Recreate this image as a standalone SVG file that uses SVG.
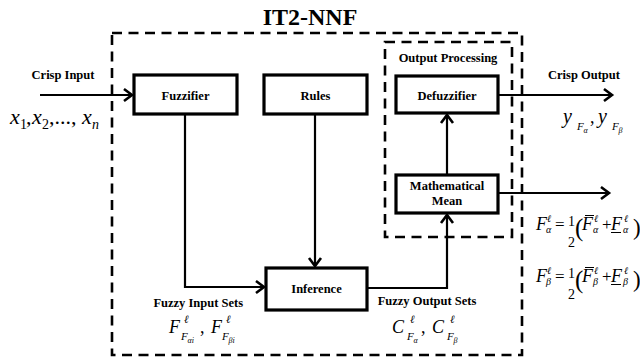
<svg xmlns="http://www.w3.org/2000/svg" width="640" height="361" viewBox="0 0 640 361" font-family="Liberation Serif, Times New Roman, serif">
  <style>
    .box { fill: #fff; stroke: #000; stroke-width: 3.2; }
    .dash { fill: none; stroke: #000; stroke-width: 2.6; stroke-dasharray: 10 6.5; }
    .wire { fill: none; stroke: #000; stroke-width: 2.2; }
    .lbl { font-family: Liberation Serif, Times New Roman, serif; font-weight: bold; font-size: 12.5px; fill: #000; }
    .mi { font-family: Liberation Serif, Times New Roman, serif; font-style: italic; fill: #000; }
    .mr { font-family: Liberation Serif, Times New Roman, serif; fill: #000; }
    .bar { stroke: #000; stroke-width: 1; }
  </style>
  <defs>
    <marker id="arrow" markerUnits="userSpaceOnUse" markerWidth="14" markerHeight="16" viewBox="-11 -8 14 16" refX="0" refY="0" orient="auto">
      <path d="M-8,-6 L0,0 L-8,6" fill="none" stroke="#000" stroke-width="2.6"/>
    </marker>
  </defs>

  <rect width="640" height="361" fill="#fff"/>

  <!-- title and system boundaries -->
  <text x="310" y="25" text-anchor="middle" font-weight="bold" font-size="24">IT2-NNF</text>
  <rect id="system" class="dash" x="112" y="33" width="410" height="322"/>
  <g id="output-processing">
    <rect class="dash" x="385" y="42" width="127" height="195"/>
    <text class="lbl" x="448" y="62" text-anchor="middle">Output Processing</text>
  </g>

  <!-- connectors -->
  <g id="connectors">
    <line class="wire" x1="40" y1="95" x2="132" y2="95" marker-end="url(#arrow)"/>
    <polyline class="wire" points="185,114 185,287 264,287" marker-end="url(#arrow)"/>
    <line class="wire" x1="315" y1="114" x2="315" y2="266" marker-end="url(#arrow)"/>
    <polyline class="wire" points="367,288 447,288 447,215" marker-end="url(#arrow)"/>
    <line class="wire" x1="447" y1="175" x2="447" y2="115" marker-end="url(#arrow)"/>
    <line class="wire" x1="498" y1="95" x2="612" y2="95" marker-end="url(#arrow)"/>
    <line class="wire" x1="498" y1="193" x2="609" y2="193" marker-end="url(#arrow)"/>
  </g>

  <!-- nodes -->
  <g id="fuzzifier">
    <rect class="box" x="134" y="75" width="103" height="39"/>
    <text class="lbl" x="185.5" y="100" text-anchor="middle">Fuzzifier</text>
  </g>
  <g id="rules">
    <rect class="box" x="264" y="75" width="103" height="39"/>
    <text class="lbl" x="315.5" y="100" text-anchor="middle">Rules</text>
  </g>
  <g id="inference">
    <rect class="box" x="266" y="268" width="101" height="42"/>
    <text class="lbl" x="316.5" y="293" text-anchor="middle">Inference</text>
  </g>
  <g id="defuzzifier">
    <rect class="box" x="396" y="76" width="102" height="37"/>
    <text class="lbl" x="447" y="100" text-anchor="middle">Defuzzifier</text>
  </g>
  <g id="mean">
    <rect class="box" x="396" y="175" width="102" height="38"/>
    <text class="lbl" x="447" y="190" text-anchor="middle">Mathematical</text>
    <text class="lbl" x="447" y="205" text-anchor="middle">Mean</text>
  </g>

  <!-- port labels -->
  <g id="crisp-input">
    <text class="lbl" x="63" y="79" text-anchor="middle">Crisp Input</text>
    <text class="mi" font-size="22" y="124"><tspan x="10">x</tspan><tspan x="20" y="129" font-size="14" font-style="normal">1</tspan><tspan x="26" y="124" font-style="normal">,</tspan><tspan x="32">x</tspan><tspan x="42" y="129" font-size="14" font-style="normal">2</tspan><tspan x="49" y="124" font-style="normal">,...,</tspan><tspan x="82">x</tspan><tspan x="92" y="129" font-size="14">n</tspan></text>
  </g>
  <g id="crisp-output">
    <text class="lbl" x="584" y="79" text-anchor="middle">Crisp Output</text>
    <text class="mi" font-size="20" x="563" y="123">y</text>
    <text class="mi" font-size="11" x="577" y="130">F</text>
    <text class="mi" font-size="8" x="583.5" y="133">α</text>
    <text class="mr" font-size="18" x="590" y="123">,</text>
    <text class="mi" font-size="20" x="598" y="123">y</text>
    <text class="mi" font-size="11" x="612" y="130">F</text>
    <text class="mi" font-size="8" x="618.5" y="133">β</text>
  </g>
  <g id="fuzzy-input-sets">
    <text class="lbl" x="243" y="307" text-anchor="end">Fuzzy Input Sets</text>
    <text class="mi" font-size="18" x="169" y="333">F</text>
    <text class="mi" font-size="11" x="184" y="323">ℓ</text>
    <text class="mi" font-size="11" x="181" y="340">F</text>
    <text class="mi" font-size="8" x="187.5" y="343">αi</text>
    <text class="mr" font-size="18" x="200" y="333">,</text>
    <text class="mi" font-size="18" x="211" y="333">F</text>
    <text class="mi" font-size="11" x="226" y="323">ℓ</text>
    <text class="mi" font-size="11" x="222" y="340">F</text>
    <text class="mi" font-size="8" x="228.5" y="343">βi</text>
  </g>
  <g id="fuzzy-output-sets">
    <text class="lbl" x="427" y="305" text-anchor="middle">Fuzzy Output Sets</text>
    <text class="mi" font-size="18" x="392" y="333">C</text>
    <text class="mi" font-size="11" x="410" y="323">ℓ</text>
    <text class="mi" font-size="11" x="407" y="340">F</text>
    <text class="mi" font-size="8" x="413.5" y="343">α</text>
    <text class="mr" font-size="18" x="421" y="333">,</text>
    <text class="mi" font-size="18" x="432" y="333">C</text>
    <text class="mi" font-size="11" x="450" y="323">ℓ</text>
    <text class="mi" font-size="11" x="447" y="340">F</text>
    <text class="mi" font-size="8" x="453.5" y="343">β</text>
  </g>

  <!-- mean formulas -->
  <g id="formula-alpha">
    <text class="mi" font-size="18" x="536" y="230">F</text>
    <text class="mi" font-size="10" x="547" y="222">ℓ</text>
    <text class="mi" font-size="10" x="546" y="233">α</text>
    <text class="mr" font-size="17" x="555" y="230">=</text>
    <text class="mr" font-size="14" x="568" y="226">1</text>
    <text class="mr" font-size="14" x="568" y="247">2</text>
    <text class="mr" font-size="25" x="575" y="236">(</text>
    <text class="mi" font-size="18" x="582" y="230">F</text>
    <line class="bar" x1="585" y1="215.5" x2="594" y2="215.5"/>
    <text class="mi" font-size="10" x="594" y="222">ℓ</text>
    <text class="mi" font-size="10" x="593" y="233">α</text>
    <text class="mr" font-size="17" x="602" y="230">+</text>
    <text class="mi" font-size="18" x="611" y="230">F</text>
    <line class="bar" x1="611" y1="232.5" x2="621" y2="232.5"/>
    <text class="mi" font-size="10" x="624" y="222">ℓ</text>
    <text class="mi" font-size="10" x="623" y="233">α</text>
    <text class="mr" font-size="23" x="633" y="235">)</text>
  </g>
  <g id="formula-beta">
    <text class="mi" font-size="18" x="536" y="282">F</text>
    <text class="mi" font-size="10" x="547" y="274">ℓ</text>
    <text class="mi" font-size="10" x="546" y="285">β</text>
    <text class="mr" font-size="17" x="555" y="282">=</text>
    <text class="mr" font-size="14" x="568" y="278">1</text>
    <text class="mr" font-size="14" x="568" y="299">2</text>
    <text class="mr" font-size="25" x="575" y="288">(</text>
    <text class="mi" font-size="18" x="582" y="282">F</text>
    <line class="bar" x1="585" y1="267.5" x2="594" y2="267.5"/>
    <text class="mi" font-size="10" x="594" y="274">ℓ</text>
    <text class="mi" font-size="10" x="593" y="285">β</text>
    <text class="mr" font-size="17" x="602" y="282">+</text>
    <text class="mi" font-size="18" x="611" y="282">F</text>
    <line class="bar" x1="611" y1="284.5" x2="621" y2="284.5"/>
    <text class="mi" font-size="10" x="624" y="274">ℓ</text>
    <text class="mi" font-size="10" x="623" y="285">β</text>
    <text class="mr" font-size="23" x="633" y="287">)</text>
  </g>
</svg>
